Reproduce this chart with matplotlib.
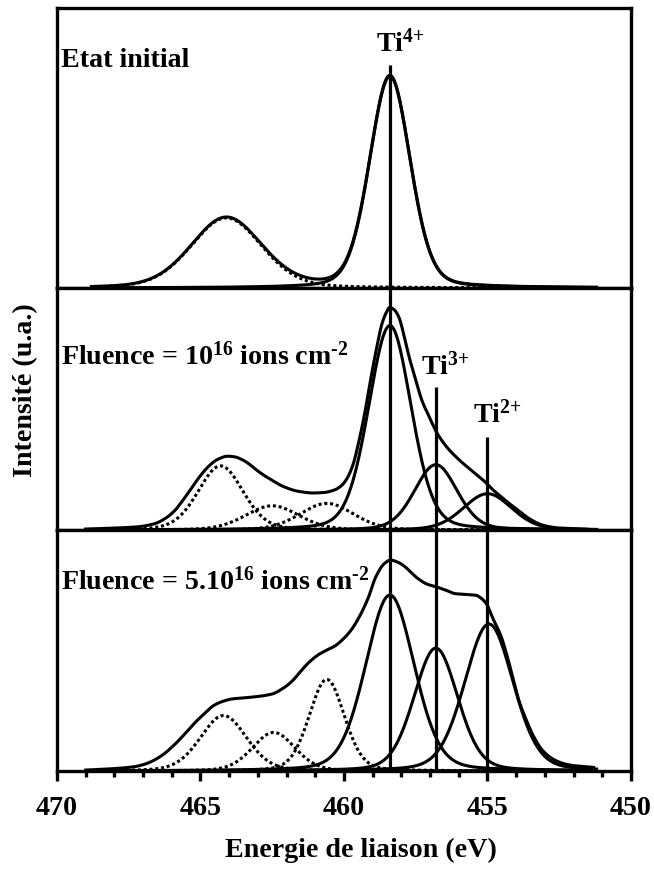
import numpy as np
import matplotlib
matplotlib.use("Agg")
import matplotlib.pyplot as plt
from matplotlib.ticker import MultipleLocator, NullLocator
from matplotlib.transforms import blended_transform_factory

# ---------------- data ----------------
x_limits = (470, 450)
x_major = [470, 465, 460, 455, 450]
curve_span = (468.8, 451.2)

panel_labels = ["Etat initial",
                r"Fluence = 10$^{\text{16}}$ ions cm$^{\text{-2}}$",
                r"Fluence = 5.10$^{\text{16}}$ ions cm$^{\text{-2}}$"]

# fitted components: centre (eV), height (fraction of panel), FWHM (eV)
top_solid_centers = [458.4]
top_solid_heights = [0.755]
top_solid_fwhm = [1.67]
top_dotted_centers = [464.1]
top_dotted_heights = [0.25]
top_dotted_fwhm = [2.9]

mid_solid_centers = [458.4, 456.8, 455.0]
mid_solid_heights = [0.845, 0.27, 0.15]
mid_solid_fwhm = [1.75, 1.75, 2.0]
mid_dotted_centers = [464.3, 462.5, 460.6]
mid_dotted_heights = [0.265, 0.10, 0.11]
mid_dotted_fwhm = [1.85, 2.2, 2.2]

bot_solid_centers = [458.4, 456.8, 454.95]
bot_solid_heights = [0.73, 0.51, 0.61]
bot_solid_fwhm = [2.0, 1.8, 2.0]
bot_dotted_centers = [464.2, 462.45, 460.6]
bot_dotted_heights = [0.23, 0.16, 0.38]
bot_dotted_fwhm = [1.9, 1.75, 1.45]

lorentz_fraction = 0.2

# measured envelopes (energy eV, intensity as fraction of panel)
mid_env_energy = [469.0, 468.0, 467.2, 466.6, 466.2, 465.9, 465.6, 465.3,
                  465.0, 464.7, 464.4, 464.05, 463.8, 463.54, 463.25, 462.96,
                  462.5, 462.08, 461.6, 461.07, 460.7, 460.34, 460.1, 459.91,
                  459.7, 459.47, 459.25, 459.03, 458.85, 458.67, 458.5, 458.41,
                  458.25, 458.09, 457.9, 457.73, 457.5, 457.29, 457.0, 456.78,
                  456.4, 455.98, 455.5, 455.04, 454.8, 454.53, 454.25, 453.95,
                  453.52, 453.08, 452.5, 451.5]
mid_env_value = [0.004, 0.008, 0.013, 0.026, 0.05, 0.08, 0.125, 0.175,
                 0.225, 0.265, 0.292, 0.305, 0.302, 0.29, 0.268, 0.24,
                 0.205, 0.178, 0.16, 0.153, 0.155, 0.165, 0.182, 0.21,
                 0.265, 0.372, 0.50, 0.649, 0.76, 0.855, 0.905, 0.92,
                 0.91, 0.88, 0.80, 0.715, 0.62, 0.537, 0.46, 0.405,
                 0.34, 0.289, 0.24, 0.194, 0.165, 0.138, 0.11, 0.083,
                 0.045, 0.02, 0.008, 0.003]

bot_env_energy = [469.0, 468.0, 467.3, 466.9, 466.4, 465.9, 465.5, 465.13,
                  464.8, 464.55, 464.2, 463.9, 463.25, 462.52, 462.1, 461.79,
                  461.5, 461.21, 460.9, 460.63, 460.3, 460.05, 459.75, 459.47,
                  459.15, 458.89, 458.6, 458.38, 458.1, 457.87, 457.44, 457.1,
                  456.78, 456.4, 456.13, 455.7, 455.4, 455.2, 455.04, 454.8,
                  454.53, 454.3, 454.1, 453.9, 453.66, 453.4, 453.08, 452.7,
                  452.3, 451.92, 451.3]
bot_env_value = [0.004, 0.010, 0.018, 0.03, 0.06, 0.11, 0.16, 0.208,
                 0.245, 0.271, 0.290, 0.299, 0.306, 0.319, 0.345, 0.375,
                 0.415, 0.452, 0.482, 0.50, 0.52, 0.545, 0.585, 0.639,
                 0.72, 0.806, 0.86, 0.875, 0.865, 0.847, 0.80, 0.775,
                 0.764, 0.748, 0.736, 0.732, 0.729, 0.715, 0.694, 0.63,
                 0.56, 0.47, 0.38, 0.29, 0.215, 0.145, 0.085, 0.048,
                 0.029, 0.021, 0.015]

state_names = [r"Ti$^{\text{4+}}$", r"Ti$^{\text{3+}}$", r"Ti$^{\text{2+}}$"]
state_energies = [458.4, 456.8, 455.0]

# ---------------- style ----------------
plt.rcParams["font.family"] = ["Liberation Serif", "DejaVu Serif"]
plt.rcParams["font.weight"] = "bold"
plt.rcParams["mathtext.fontset"] = "custom"
plt.rcParams["mathtext.rm"] = "Liberation Serif:bold"
plt.rcParams["mathtext.it"] = "Liberation Serif:italic:bold"
plt.rcParams["mathtext.bf"] = "Liberation Serif:bold"
plt.rcParams["mathtext.default"] = "rm"

FS = 20.2
LW = 2.2
FRAME = 2.4

W, H = 654, 876
fig = plt.figure(figsize=(W / 100, H / 100), dpi=100)


def fx(px):
    return px / W


def fy(py):
    return 1 - py / H


left_px, right_px = 57, 631
panel_px = [(7.5, 288), (288, 530), (530, 771)]
axes = []
for (t, b) in panel_px:
    ax = fig.add_axes([fx(left_px), fy(b), fx(right_px - left_px), (b - t) / H])
    axes.append(ax)


def pvoigt(x, c, h, w):
    g = np.exp(-4 * np.log(2) * ((x - c) / w) ** 2)
    l = 1.0 / (1 + (2 * (x - c) / w) ** 2)
    return h * ((1 - lorentz_fraction) * g + lorentz_fraction * l)


def smooth_line(xk, yk, n=600):
    """monotone cubic (PCHIP) drawing path through the read points"""
    xk = np.asarray(xk, float)
    yk = np.asarray(yk, float)
    o = np.argsort(xk)
    xk, yk = xk[o], yk[o]
    h = np.diff(xk)
    dl = np.diff(yk) / h
    d = np.zeros_like(yk)
    for k in range(1, len(xk) - 1):
        if dl[k - 1] * dl[k] > 0:
            w1 = 2 * h[k] + h[k - 1]
            w2 = h[k] + 2 * h[k - 1]
            d[k] = (w1 + w2) / (w1 / dl[k - 1] + w2 / dl[k])
    d[0], d[-1] = dl[0], dl[-1]
    xs = np.linspace(xk[0], xk[-1], n)
    idx = np.clip(np.searchsorted(xk, xs) - 1, 0, len(xk) - 2)
    t = (xs - xk[idx]) / h[idx]
    h00 = 2 * t ** 3 - 3 * t ** 2 + 1
    h10 = t ** 3 - 2 * t ** 2 + t
    h01 = -2 * t ** 3 + 3 * t ** 2
    h11 = t ** 3 - t ** 2
    ys = (h00 * yk[idx] + h10 * h[idx] * d[idx] + h01 * yk[idx + 1]
          + h11 * h[idx] * d[idx + 1])
    return xs, ys


panels = [
    (top_solid_centers, top_solid_heights, top_solid_fwhm,
     top_dotted_centers, top_dotted_heights, top_dotted_fwhm, None),
    (mid_solid_centers, mid_solid_heights, mid_solid_fwhm,
     mid_dotted_centers, mid_dotted_heights, mid_dotted_fwhm,
     (mid_env_energy, mid_env_value)),
    (bot_solid_centers, bot_solid_heights, bot_solid_fwhm,
     bot_dotted_centers, bot_dotted_heights, bot_dotted_fwhm,
     (bot_env_energy, bot_env_value)),
]

x = np.linspace(curve_span[0], curve_span[1], 800)
for ax, (sc, sh, sw, dc, dh, dw, env) in zip(axes, panels):
    total = np.zeros_like(x)
    for c, h, w in zip(dc, dh, dw):
        y = pvoigt(x, c, h, w)
        total += y
        ax.plot(x, y, color="black", lw=LW, linestyle=(0, (1.0, 0.9)),
                dash_capstyle="butt", zorder=2)
    for c, h, w in zip(sc, sh, sw):
        y = pvoigt(x, c, h, w)
        total += y
        ax.plot(x, y, color="black", lw=LW, zorder=3)
    if env is None:
        ax.plot(x, total, color="black", lw=LW, zorder=3)
    else:
        ex, ey = smooth_line(*env)
        ax.plot(ex, ey, color="black", lw=LW, zorder=3)
    ax.set_xlim(*x_limits)
    ax.set_ylim(0, 1)
    ax.yaxis.set_major_locator(NullLocator())
    for s in ax.spines.values():
        s.set_linewidth(FRAME)
    ax.tick_params(axis="x", which="both", bottom=False, labelbottom=False)

bax = axes[-1]
bax.xaxis.set_major_locator(MultipleLocator(5))
bax.xaxis.set_minor_locator(MultipleLocator(1))
bax.tick_params(axis="x", which="both", bottom=True, labelbottom=True,
                direction="out", width=FRAME)
bax.tick_params(axis="x", which="major", length=7.5, pad=10.5, labelsize=FS)
bax.tick_params(axis="x", which="minor", length=4)
bax.set_xticks(x_major)
bax.set_xticklabels([str(v) for v in x_major], fontweight="bold")

# panel labels
label_baselines = [67, 365, 590]
for lab, yb in zip(panel_labels, label_baselines):
    fig.text(fx(61), fy(yb), lab, fontsize=FS, fontweight="bold",
             ha="left", va="baseline")

# oxidation state lines and labels
line_tops = [65, 387, 437]
text_baselines = [52, 375, 423]
trans = blended_transform_factory(bax.transData, fig.transFigure)
for name, e, top, tb in zip(state_names, state_energies, line_tops, text_baselines):
    bax.plot([e, e], [fy(771), fy(top)], transform=trans, color="black",
             lw=2.3, clip_on=False, zorder=5, solid_capstyle="butt")
    bax.text(e + 0.5, fy(tb), name, transform=trans, fontsize=FS,
             fontweight="bold", ha="left", va="baseline")

fig.text(fx(361), fy(857), "Energie de liaison (eV)", fontsize=FS,
         fontweight="bold", ha="center", va="baseline")
fig.text(fx(26), fy(390), "Intensité (u.a.)", fontsize=FS, fontweight="bold",
         rotation=90, ha="center", va="center")

fig.savefig("out.png", dpi=100)
